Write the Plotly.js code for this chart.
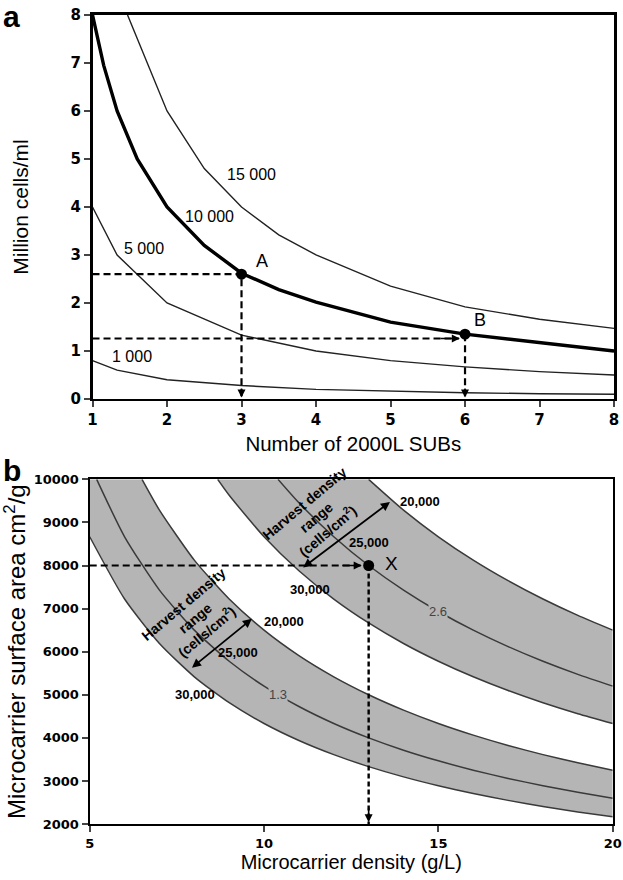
<!DOCTYPE html>
<html><head><meta charset="utf-8">
<script src="https://cdn.plot.ly/plotly-3.0.1.min.js"></script>
<style>html,body{margin:0;padding:0;background:#fff}#chart{width:623px;height:880px}</style>
</head><body><div id="chart"></div>
<script>
// ---------- Panel a data ----------
const subs = [1, 1.33, 2, 3, 4, 5, 6, 7, 8];
const cells1000 = [0.8, 0.6, 0.4, 0.28, 0.2, 0.16, 0.13, 0.11, 0.1];
const cells5000 = [4.0, 3.0, 2.0, 1.33, 1.0, 0.8, 0.67, 0.57, 0.5];
const subs10000 = [1, 1.15, 1.33, 1.6, 2, 2.5, 3, 3.5, 4, 5, 6, 7, 8];
const cells10000 = [8.0, 6.95, 6.0, 5.0, 4.0, 3.2, 2.62, 2.28, 2.02, 1.6, 1.35, 1.17, 1.0];
const subs15000 = [1.47, 1.6, 2, 2.5, 3, 3.5, 4, 5, 6, 7, 8];
const cells15000 = [8.0, 7.5, 6.0, 4.8, 4.0, 3.42, 3.0, 2.35, 1.92, 1.66, 1.47];
const curveLabelsA = ["15 000", "10 000", "5 000", "1 000"];
const curveLabelX = [3.13, 2.57, 1.69, 1.53];
const curveLabelY = [4.67, 3.80, 3.13, 0.88];
const pointA = [3, 2.6];
const pointB = [6, 1.35];
const arrowLevelB = 1.26;

// ---------- Panel b data ----------
const dens13_20k = [6.5, 7, 8, 9, 10, 11, 12, 13, 14, 15, 16, 17, 18, 19, 20];
const area13_20k = [10000, 9286, 8125, 7222, 6500, 5909, 5417, 5000, 4643, 4333, 4063, 3824, 3611, 3421, 3250];
const dens13_25k = [5.2, 6, 7, 8, 9, 10, 11, 12, 13, 14, 15, 16, 17, 18, 19, 20];
const area13_25k = [10000, 8667, 7429, 6500, 5778, 5200, 4727, 4333, 4000, 3714, 3467, 3250, 3059, 2889, 2737, 2600];
const dens13_30k = [5, 6, 7, 8, 9, 10, 11, 12, 13, 14, 15, 16, 17, 18, 19, 20];
const area13_30k = [8667, 7222, 6190, 5417, 4815, 4333, 3939, 3611, 3333, 3095, 2889, 2708, 2549, 2407, 2281, 2167];
const dens26_20k = [13, 14, 15, 16, 17, 18, 19, 20];
const area26_20k = [10000, 9286, 8667, 8125, 7647, 7222, 6842, 6500];
const dens26_25k = [10.4, 11, 12, 13, 14, 15, 16, 17, 18, 19, 20];
const area26_25k = [10000, 9455, 8667, 8000, 7429, 6933, 6500, 6118, 5778, 5474, 5200];
const dens26_30k = [8.67, 9, 10, 11, 12, 13, 14, 15, 16, 17, 18, 19, 20];
const area26_30k = [10000, 9630, 8667, 7879, 7222, 6667, 6190, 5778, 5417, 5098, 4815, 4561, 4333];
const pointX = [13, 8000];
const bandLabels = ["1.3", "2.6"];

const FONT = "Liberation Sans, Arial, sans-serif";
const TICKFONT = "DejaVu Sans, Liberation Sans, Arial, sans-serif";
const fillC = "#b5b5b5", lineC = "#3a3a3a";

const traces = [];
// bands (fills)
traces.push({x: [5].concat(dens13_20k, dens13_30k.slice().reverse()),
  y: [10000].concat(area13_20k, area13_30k.slice().reverse()),
  xaxis: "x2", yaxis: "y2", mode: "lines", fill: "toself", fillcolor: fillC,
  line: {width: 0}, hoverinfo: "skip", showlegend: false});
traces.push({x: dens26_20k.concat(dens26_30k.slice().reverse()),
  y: area26_20k.concat(area26_30k.slice().reverse()),
  xaxis: "x2", yaxis: "y2", mode: "lines", fill: "toself", fillcolor: fillC,
  line: {width: 0}, hoverinfo: "skip", showlegend: false});
// band lines
[[dens13_20k, area13_20k], [dens13_25k, area13_25k], [dens13_30k, area13_30k],
 [dens26_20k, area26_20k], [dens26_25k, area26_25k], [dens26_30k, area26_30k]].forEach(c => {
  traces.push({x: c[0], y: c[1], xaxis: "x2", yaxis: "y2", mode: "lines",
    line: {color: lineC, width: 1.5, shape: "spline", smoothing: 0.6}, showlegend: false});
});
// panel a curves
traces.push({x: subs, y: cells1000, mode: "lines", line: {color: "#222", width: 1.4}, showlegend: false});
traces.push({x: subs, y: cells5000, mode: "lines", line: {color: "#222", width: 1.4}, showlegend: false});
traces.push({x: subs15000, y: cells15000, mode: "lines", line: {color: "#222", width: 1.4}, showlegend: false});
traces.push({x: subs10000, y: cells10000, mode: "lines", line: {color: "#000", width: 3.4}, showlegend: false});
// panel a guides
const dashA = {color: "#000", width: 2.2, dash: "7px,4px"};
traces.push({x: [1, pointA[0], pointA[0]], y: [pointA[1], pointA[1], 0], mode: "lines", line: dashA, showlegend: false});
traces.push({x: [1, pointB[0] - 0.08], y: [arrowLevelB, arrowLevelB], mode: "lines", line: dashA, showlegend: false});
traces.push({x: [pointB[0], pointB[0]], y: [pointB[1], 0], mode: "lines", line: dashA, showlegend: false});
traces.push({x: [pointA[0], pointB[0]], y: [pointA[1], pointB[1]], mode: "markers",
  marker: {color: "#000", size: 11}, showlegend: false});
// panel b guides
traces.push({x: [5, pointX[0] - 0.22], y: [pointX[1], pointX[1]], xaxis: "x2", yaxis: "y2", mode: "lines", line: dashA, showlegend: false});
traces.push({x: [pointX[0], pointX[0]], y: [pointX[1], 2000], xaxis: "x2", yaxis: "y2", mode: "lines",
  line: {color: "#000", width: 2.4, dash: "5px,3px"}, showlegend: false});
traces.push({x: [pointX[0]], y: [pointX[1]], xaxis: "x2", yaxis: "y2", mode: "markers",
  marker: {color: "#000", size: 11}, showlegend: false});

const ann = [];
// panel letters
ann.push({xref: "paper", yref: "paper", x: 0.019, y: 0.981, text: "<b>a</b>", showarrow: false,
  font: {family: FONT, size: 30, color: "#000"}, xanchor: "center", yanchor: "middle"});
ann.push({xref: "paper", yref: "paper", x: 0.019, y: 0.465, text: "<b>b</b>", showarrow: false,
  font: {family: FONT, size: 30, color: "#000"}, xanchor: "center", yanchor: "middle"});
// curve labels a
curveLabelsA.forEach((t, i) => ann.push({x: curveLabelX[i], y: curveLabelY[i], text: t, showarrow: false,
  font: {family: FONT, size: 16, color: "#000"}}));
ann.push({x: 3.28, y: 2.87, text: "A", showarrow: false, font: {family: FONT, size: 18, color: "#000"}});
ann.push({x: 6.2, y: 1.64, text: "B", showarrow: false, font: {family: FONT, size: 18, color: "#000"}});
// arrowheads
function head(xr, yr, x, y, ax, ay) {
  return {xref: xr, yref: yr, axref: xr, ayref: yr, x: x, y: y, ax: ax, ay: ay, text: "",
    showarrow: true, arrowhead: 2, arrowsize: 1, arrowwidth: 1.6, arrowcolor: "#000"};
}
ann.push(head("x", "y", pointA[0], 0.03, pointA[0], 0.25));
ann.push(head("x", "y", pointB[0], 0.03, pointB[0], 0.25));
ann.push(head("x", "y", pointB[0] - 0.07, arrowLevelB, pointB[0] - 0.35, arrowLevelB));
ann.push(head("x2", "y2", pointX[0] - 0.2, pointX[1], pointX[0] - 0.8, pointX[1]));
ann.push(head("x2", "y2", pointX[0], 2040, pointX[0], 2400));
// panel b band labels
ann.push({xref: "x2", yref: "y2", x: 10.4, y: 5000, text: bandLabels[0], showarrow: false,
  font: {family: FONT, size: 13, color: "#444"}, bgcolor: fillC, borderpad: 0});
ann.push({xref: "x2", yref: "y2", x: 15.0, y: 6933, text: bandLabels[1], showarrow: false,
  font: {family: FONT, size: 13, color: "#444"}, bgcolor: fillC, borderpad: 0});
const smallF = {family: FONT, size: 13, color: "#000", weight: "bold"};
[[9.95, 6694, "20,000", "left"], [9.26, 5990, "25,000", "center"], [8.03, 5016, "30,000", "center"],
 [13.85, 9478, "20,000", "left"], [13.0, 8527, "25,000", "center"], [11.33, 7452, "30,000", "center"]].forEach(l => {
  ann.push({xref: "x2", yref: "y2", x: l[0], y: l[1], text: l[2], xanchor: l[3], showarrow: false, font: smallF});
});
ann.push({xref: "x2", yref: "y2", x: pointX[0] + 0.66, y: 8044, text: "X", showarrow: false,
  font: {family: FONT, size: 19, color: "#000"}});
// double arrows
[[7.89, 5601, 9.65, 6762], [11.08, 7928, 13.61, 9474]].forEach(a => {
  ann.push({xref: "x2", yref: "y2", axref: "x2", ayref: "y2", x: a[2], y: a[3], ax: a[0], ay: a[1], text: "",
    showarrow: true, arrowhead: 2, startarrowhead: 2, arrowside: "end+start", arrowsize: 1, arrowwidth: 1.8, arrowcolor: "#000"});
});
// harvest density text
const harvF = {family: FONT, size: 14, color: "#000", weight: "bold"};
[[8.02, 6780], [11.5, 9120]].forEach(p => {
  ann.push({xref: "x2", yref: "y2", x: p[0], y: p[1], text: "Harvest density<br>range<br>(cells/cm<sup>2</sup>)",
    showarrow: false, textangle: -40, font: harvF});
});

const tickA = {family: TICKFONT, size: 15, color: "#000", weight: "bold"};
const tickB = {family: TICKFONT, size: 13, color: "#000", weight: "bold"};
const titleF = {family: FONT, size: 20, color: "#000"};
const layout = {
  width: 623, height: 880, margin: {l: 0, r: 0, t: 0, b: 0},
  paper_bgcolor: "#fff", plot_bgcolor: "#fff", showlegend: false, font: {family: FONT},
  xaxis: {domain: [0.1485, 0.9856], range: [1, 8], dtick: 1, anchor: "y",
    showline: true, linewidth: 2.5, linecolor: "#000", mirror: true, ticks: "outside", ticklen: 6, tickwidth: 2,
    showgrid: false, zeroline: false, tickfont: tickA, automargin: false,
    title: {text: "Number of 2000L SUBs", font: {family: FONT, size: 20.5, color: "#000"}, standoff: 8}},
  yaxis: {domain: [0.5466, 0.983], range: [0, 8], dtick: 1, anchor: "x",
    showline: true, linewidth: 2.5, linecolor: "#000", mirror: true, ticks: "outside", ticklen: 6, tickwidth: 2,
    showgrid: false, zeroline: false, tickfont: tickA, automargin: false,
    title: {text: "Million cells/ml", font: {family: FONT, size: 21, color: "#000"}, standoff: 36}},
  xaxis2: {domain: [0.144, 0.9835], range: [5, 20], tickvals: [5, 10, 15, 20], anchor: "y2",
    showline: true, linewidth: 2.2, linecolor: "#000", mirror: true, ticks: "outside", ticklen: 6, tickwidth: 2,
    showgrid: false, zeroline: false, tickfont: tickB, automargin: false,
    title: {text: "Microcarrier density (g/L)", font: titleF, standoff: 5}},
  yaxis2: {domain: [0.0636, 0.4553], range: [2000, 10000], dtick: 1000, tickformat: "d", anchor: "x2",
    showline: true, linewidth: 2.2, linecolor: "#000", mirror: true, ticks: "outside", ticklen: 6, tickwidth: 2,
    showgrid: false, zeroline: false, tickfont: tickB, automargin: false,
    title: {text: "Microcarrier surface area cm<sup>2</sup>/g", font: {family: FONT, size: 24, color: "#000"}, standoff: 12}},
  annotations: ann
};
Plotly.newPlot("chart", traces, layout, {staticPlot: true, displayModeBar: false});
</script></body></html>
